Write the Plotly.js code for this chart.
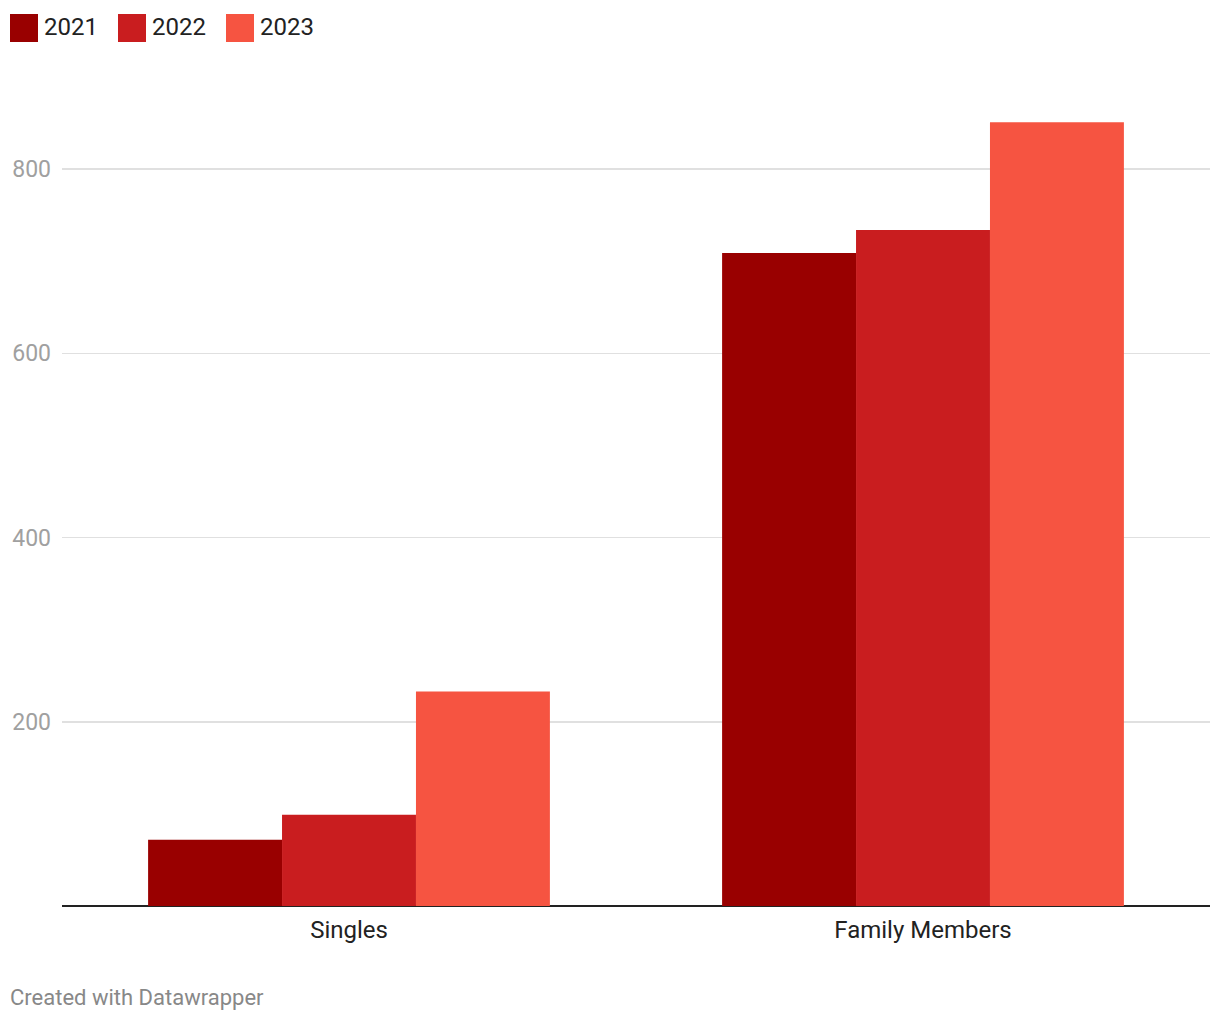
<!DOCTYPE html>
<html>
<head>
<meta charset="utf-8">
<script src="https://cdn.plot.ly/plotly-3.0.1.min.js"></script>
<style>html,body{margin:0;padding:0;background:#fff;}#chart{width:1220px;height:1020px;}</style>
</head>
<body>
<div id="chart"></div>
<script>
const categories = ["Singles", "Family Members"];
const seriesNames = ["2021", "2022", "2023"];
const values2021 = [72, 709];
const values2022 = [99, 734];
const values2023 = [233, 851];
const colors = ["#990000", "#c91d1f", "#f65441"];
const yTicks = [200, 400, 600, 800];
const footer = "Created with Datawrapper";

const allValues = [values2021, values2022, values2023];
const traces = seriesNames.map((name, i) => ({
  type: "bar",
  name: name,
  x: categories,
  y: allValues[i],
  marker: {color: colors[i], line: {width: 0}},
  hoverinfo: "x+y+name"
}));

const plotL = 62, plotT = 77, plotW = 1148, plotH = 829;
function px2paperX(px) { return (px - plotL) / plotW; }
function px2paperY(py) { return (plotT + plotH - py) / plotH; }
const legendX = [10, 118, 226];
const shapes = [];
const annotations = [];
seriesNames.forEach((name, i) => {
  shapes.push({
    type: "rect", xref: "paper", yref: "paper",
    x0: px2paperX(legendX[i]), x1: px2paperX(legendX[i] + 28),
    y0: px2paperY(42), y1: px2paperY(14),
    fillcolor: colors[i], line: {width: 0}
  });
  annotations.push({
    text: name, xref: "paper", yref: "paper",
    x: px2paperX(legendX[i] + 32), y: px2paperY(27),
    xanchor: "left", yanchor: "middle", showarrow: false,
    font: {family: "Roboto", size: 24, color: "#222"}
  });
});
annotations.push({
  text: footer, xref: "paper", yref: "paper",
  x: px2paperX(8), y: px2paperY(997),
  xanchor: "left", yanchor: "middle", showarrow: false,
  font: {family: "Roboto", size: 22, color: "#888"}
});

const layout = {
  width: 1220, height: 1020,
  margin: {l: plotL, r: 1220 - plotL - plotW, t: plotT, b: 1020 - plotT - plotH},
  paper_bgcolor: "#fff", plot_bgcolor: "#fff",
  barmode: "group", bargap: 0.3, bargroupgap: 0,
  showlegend: false,
  font: {family: "Roboto", color: "#222"},
  xaxis: {
    type: "category",
    showgrid: false, zeroline: false,
    showline: false,
    ticks: "",
    tickfont: {family: "Roboto", size: 24, color: "#222"},
    ticklabelstandoff: 7
  },
  yaxis: {
    range: [0, 900],
    tickvals: yTicks,
    ticktext: yTicks.map(String),
    showgrid: true, gridcolor: "#e0e0e0", gridwidth: 1.5,
    zeroline: true, zerolinecolor: "#222", zerolinewidth: 2,
    showline: false, ticks: "",
    tickfont: {family: "Roboto", size: 23, color: "#a0a0a0"},
    ticklabelstandoff: 10
  },
  shapes: shapes,
  annotations: annotations
};

Plotly.newPlot("chart", traces, layout, {displayModeBar: false, staticPlot: true});
</script>
</body>
</html>
